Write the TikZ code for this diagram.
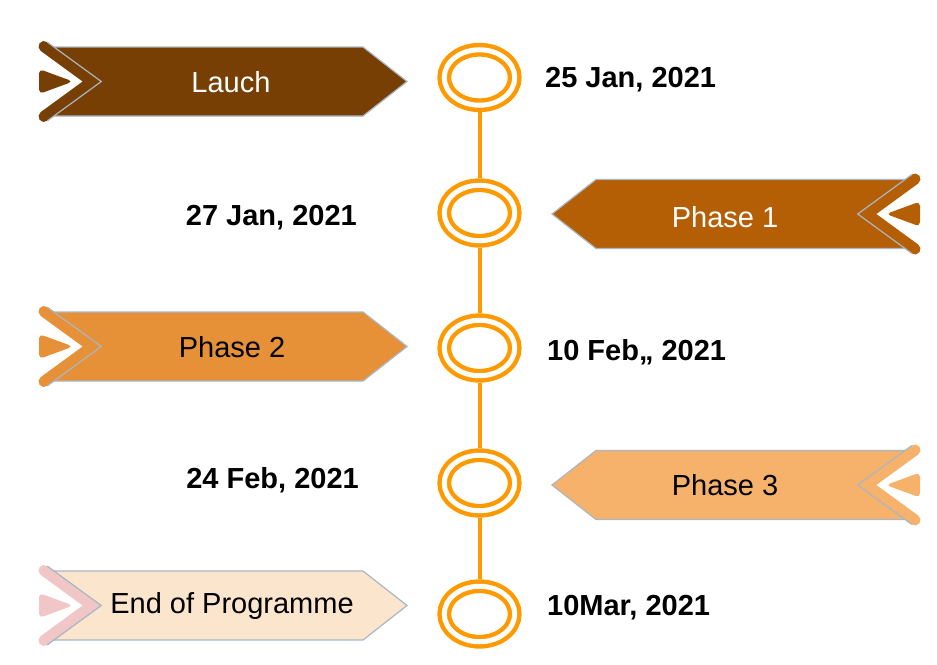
\documentclass[tikz,border=0pt]{standalone}
\usepackage{fontspec}
\setmainfont{Liberation Sans}
\usetikzlibrary{shapes.geometric}
\definecolor{ringorange}{RGB}{255,153,0}
\definecolor{cLaunch}{HTML}{783F04}
\definecolor{cPhaseOne}{HTML}{B45F06}
\definecolor{cPhaseTwo}{HTML}{E69138}
\definecolor{cPhaseThree}{HTML}{F6B26B}
\definecolor{cEnd}{HTML}{FCE5CD}
\definecolor{cEndBand}{HTML}{F0C6C6}
\definecolor{edgegrey}{HTML}{A9B6C4}
\newcommand\flagdraw[2]{%
  \filldraw[bodyline, fill=#1] (53,-34.5) -- (363,-34.5) -- (407,0) -- (363,34.5) -- (53,34.5) -- (92,0) -- cycle;
  \draw[#2, line width=11pt, line cap=round, line join=miter] (44,-35) -- (92,0) -- (44,35);
  \draw[bodyline] (47.2,-39.4) -- (101.3,0) -- (47.2,39.4);
  \fill[#2, rounded corners=4.5] (39,-12.5) -- (73,0) -- (39,12.5) -- cycle;
}
\begin{document}
\begin{tikzpicture}[x=1pt,y=-1pt,
  bodyline/.style={draw=edgegrey, line width=1.2pt, line join=miter},
  ring/.style={ellipse, draw=ringorange, line width=4.4pt, double=white, double distance=5pt,
    minimum width=70.5pt, minimum height=55.5pt, inner sep=0pt, outer sep=7pt},
  conn/.style={draw=ringorange, line width=4pt},
  flaglbl/.style={font=\fontsize{29}{34}\selectfont, inner sep=0pt, anchor=base},
  datelbl/.style={font=\fontsize{29}{34}\selectfont\bfseries, inner sep=0pt}]
\useasboundingbox[fill=white] (0,0) rectangle (937,664);

% flags
\begin{scope}[shift={(0,81.5)}]\flagdraw{cLaunch}{cLaunch}\end{scope}
\begin{scope}[shift={(959,214)}, xscale=-1]\flagdraw{cPhaseOne}{cPhaseOne}\end{scope}
\begin{scope}[shift={(0,346.5)}]\flagdraw{cPhaseTwo}{cPhaseTwo}\end{scope}
\begin{scope}[shift={(959,485)}, xscale=-1]\flagdraw{cPhaseThree}{cPhaseThree}\end{scope}
\begin{scope}[shift={(0,605.5)}]\flagdraw{cEnd}{cEndBand}\end{scope}

% flag labels
\node[flaglbl, text=white] (l1) at (231,92.5) {Lauch};
\node[flaglbl, text=white] (l2) at (725,227) {Phase 1};
\node[flaglbl, text=black] (l3) at (232,357) {Phase 2};
\node[flaglbl, text=black] (l4) at (725,495) {Phase 3};
\node[flaglbl, text=black] (l5) at (232,613) {End of Programme};

% rings
\node[ring] (c1) at (479.5,77.5) {};
\node[ring] (c2) at (479.5,213) {};
\node[ring] (c3) at (479.5,348) {};
\node[ring] (c4) at (479.5,483) {};
\node[ring] (c5) at (479.5,614) {};
\draw[conn] (c1.south) -- (c2.north);
\draw[conn] (c2.south) -- (c3.north);
\draw[conn] (c3.south) -- (c4.north);
\draw[conn] (c4.south) -- (c5.north);

% dates
\node[datelbl, anchor=base west] (d1) at (545,87) {25 Jan, 2021};
\node[datelbl, anchor=base east] (d2) at (357,225) {27 Jan, 2021};
\node[datelbl, anchor=base west] (d3) at (547,360) {10 Feb,, 2021};
\node[datelbl, anchor=base east] (d4) at (359,488) {24 Feb, 2021};
\node[datelbl, anchor=base west] (d5) at (547,615) {10Mar, 2021};
\end{tikzpicture}
\end{document}
